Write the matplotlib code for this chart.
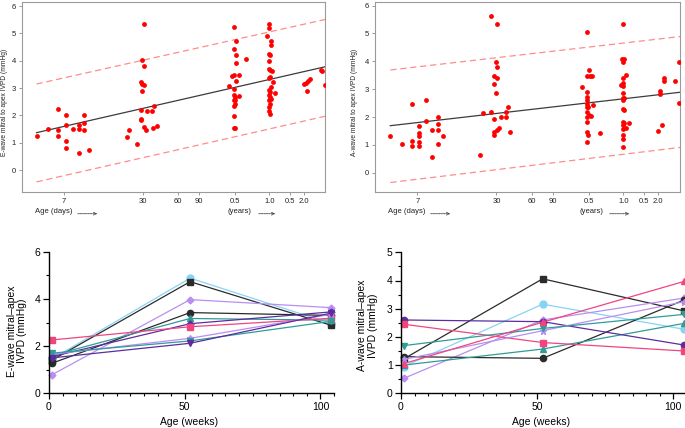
import numpy as np
import matplotlib
matplotlib.use('Agg')
import matplotlib.pyplot as plt
from matplotlib.patches import FancyArrowPatch
from matplotlib.ticker import MultipleLocator, NullLocator

plt.rcParams['font.family'] = ['Liberation Sans', 'DejaVu Sans']

# ---------------- top panels: scatter vs age (days) ----------------
tick_days = [7, 30, 60, 90, 182.5, 365, 547.5, 730]
tick_labels = ['7', '30', '60', '90', '0.5', '1.0', '0.5', '2.0']

e_days = [4.5, 5.4, 6.4, 6.4, 6.4, 7.3, 7.3, 7.3, 7.3, 8.2, 9.1, 9.1, 9.1, 10.0, 10.0, 10.0, 11.0,
          22.2, 23.2, 26.8, 29.2, 29.2, 29.2, 29.2, 29.9, 29.9, 29.9, 30.9, 30.9, 30.9, 30.9,
          32.1, 32.6, 35.8, 36.6, 37.5, 39.5,
          162, 174, 179, 179, 179, 179, 179, 179, 179, 179, 179, 183, 183, 186, 186, 186, 188,
          184, 184, 201, 201, 231,
          350, 359, 359, 359, 359, 359, 359, 359, 359, 359, 359, 359,
          369, 369, 369, 369, 369, 369, 369, 374, 374, 374, 374, 384, 389, 410,
          726, 755, 776, 791, 818, 1011, 1044, 1098]
e_vals = [1.25, 1.50, 2.22, 1.48, 1.24, 2.02, 1.64, 1.07, 0.80, 1.52, 1.64, 1.50, 0.64, 2.02, 1.73, 1.48, 0.73,
          1.20, 1.46, 0.95, 2.19, 1.88, 1.82, 3.22, 4.04, 3.16, 2.90, 5.33, 3.80, 3.10, 1.57,
          1.48, 2.15, 2.17, 1.55, 2.35, 1.62,
          3.08, 3.43, 5.23, 4.43, 3.48, 2.98, 2.76, 2.55, 2.35, 1.97, 1.55, 1.55, 2.55, 4.74, 3.92, 3.25, 4.20,
          2.43, 2.66, 3.48, 2.71, 4.08,
          4.91, 5.33, 5.20, 4.26, 3.98, 3.69, 3.37, 2.92, 2.74, 2.55, 2.31, 2.15,
          4.20, 3.65, 3.40, 2.86, 2.68, 2.43, 2.07, 4.74, 4.56, 3.04, 2.62, 3.62, 3.22, 2.82,
          3.16, 3.19, 2.90, 3.25, 3.32, 3.65, 3.61, 3.13]
e_fit_days = [4.5, 1102]
e_fit = [1.37, 3.78]
e_upper = [3.15, 5.51]
e_lower = [-0.43, 1.97]

a_days = [4.5, 5.4, 6.4, 6.4, 6.4, 7.2, 7.2, 7.2, 7.2, 7.2, 8.1, 8.1, 9.1, 9.1, 10.0, 10.0, 10.0, 10.0, 11.0,
          22.0, 23.0, 26.8, 26.8, 28.5, 28.5, 28.5, 28.5, 28.5, 29.5, 29.5, 30.6, 30.6, 30.6, 30.6,
          31.6, 32.6, 35.8, 36.0, 37.3, 39.3,
          162, 176, 176, 176, 176, 176, 176, 176, 176, 176, 176, 176, 176, 179, 179, 183, 183,
          188, 196, 190, 201, 230,
          349, 355, 359, 359, 359, 359, 359, 359, 359, 359, 359, 359, 359, 359, 359, 359,
          369, 364, 369, 369, 369, 381, 381, 405,
          730, 762, 762, 791, 818, 818, 1017, 1110, 1110]
a_vals = [1.32, 1.05, 2.47, 1.14, 0.97, 1.69, 1.41, 1.32, 1.11, 0.96, 2.61, 1.86, 1.54, 0.55, 2.01, 1.75, 1.54, 1.02, 1.33,
          0.63, 2.16, 5.63, 2.17, 1.93, 1.45, 1.35, 3.48, 3.19, 3.99, 2.85, 5.34, 3.81, 3.41, 1.53,
          1.59, 2.01, 2.18, 2.01, 2.37, 1.47,
          3.07, 2.90, 5.07, 3.47, 2.73, 2.61, 2.46, 2.35, 2.19, 2.01, 1.83, 1.47, 1.11, 1.35, 2.37, 3.69, 2.07,
          3.47, 3.47, 2.04, 2.43, 1.44,
          3.15, 4.08, 5.34, 3.96, 3.39, 3.11, 2.87, 2.67, 2.61, 2.28, 1.83, 1.71, 1.56, 1.35, 1.23, 0.93,
          4.08, 3.23, 2.67, 2.25, 1.77, 3.51, 1.59, 1.77,
          1.51, 2.83, 2.95, 1.71, 3.39, 3.31, 3.29, 3.99, 2.49]
a_fit_days = [4.5, 1124]
a_fit = [1.69, 2.89]
a_upper = [3.69, 4.89]
a_lower = [-0.35, 0.91]

# ---------------- bottom panels: longitudinal ----------------
weeks = [1, 52, 104]
e_lightblue = [1.45, 4.88, 2.95]
e_black_sq = [1.40, 4.73, 2.88]
e_lav_d = [0.78, 3.97, 3.63]
e_black_c = [1.27, 3.42, 3.30]
e_teal_up = [1.60, 3.17, 3.10]
e_purple_d = [1.55, 2.95, 3.45]
e_pink_sq = [2.26, 2.82, 3.18]
e_lav_star = [1.65, 2.33, 3.35]
e_teal_dn = [1.70, 2.22, 3.05]
e_purple_dn = [1.50, 2.12, 3.40]

a_lightblue = [0.95, 3.16, 2.27]
a_black_sq = [1.22, 4.06, 2.92]
a_lav_d = [0.53, 2.60, 3.38]
a_black_c = [1.30, 1.24, 3.31]
a_teal_up = [1.00, 1.57, 2.48]
a_purple_c = [2.60, 2.54, 1.71]
a_pink_sq = [2.45, 1.80, 1.50]
a_lav_star = [1.20, 2.22, 3.25]
a_teal_dn = [1.69, 2.30, 2.80]
a_pink_up = [1.05, 2.52, 3.97]

LB, BK, LAV, TEAL, PUR, PINK = '#86d4f5', '#2b2b2b', '#b98ef2', '#2f9c98', '#5b2d9e', '#f2457e'

W, H = 685, 428
fig = plt.figure(figsize=(6.85, 4.28), dpi=100)


def rect(l, t, r, b):
    return [l / W, 1 - b / H, (r - l) / W, (b - t) / H]


def fwd(x):
    return np.log10(np.maximum(np.asarray(x, float) - 1, 1e-6))


def inv(y):
    return 10 ** np.asarray(y, float) + 1


def top_panel(r, days, vals, fx, fy, up, lo, ylabel, xlim, ylim, lab_x):
    ax = fig.add_axes(r)
    ax.set_xscale('function', functions=(fwd, inv))
    ax.set_xlim(*xlim)
    ax.set_ylim(*ylim)
    ax.plot(fx, up, color='#ff8c8c', lw=0.9, dashes=(5, 3))
    ax.plot(fx, lo, color='#ff8c8c', lw=0.9, dashes=(5, 3))
    ax.plot(fx, fy, color='#3c3c3c', lw=0.9)
    ax.scatter(days, vals, s=12, color='#ff0000', zorder=3, linewidths=0)
    ax.set_xticks(tick_days)
    ax.set_xticklabels(tick_labels)
    ax.xaxis.set_minor_locator(NullLocator())
    ax.set_yticks(range(0, 7))
    for s in ax.spines.values():
        s.set_color('#9a9a9a')
        s.set_linewidth(0.8)
    ax.tick_params(labelsize=5.5, length=2.5, width=0.6, color='#8a8a8a', pad=2, labelcolor='#222222')
    ax.set_ylabel(ylabel, fontsize=4.8, color='#222222')
    ax.yaxis.set_label_coords(lab_x, 0.47)
    return ax


top_panel(rect(22, 2, 325, 192), e_days, e_vals, e_fit_days, e_fit, e_upper, e_lower,
          'E-wave mitral to apex IVPD (mmHg)', (3.62, 1102), (-0.8, 6.15), -0.047)
top_panel(rect(375, 2, 680, 192), a_days, a_vals, a_fit_days, a_fit, a_upper, a_lower,
          'A-wave mitral to apex IVPD (mmHg)', (3.58, 1124), (-0.69, 6.13), -0.056)


def fig_label(x_text, x0, x1, text):
    y = 1 - 212 / H
    fig.text(x_text / W, y, text, fontsize=5.5, ha='left', va='center', color='#222222')
    arr = FancyArrowPatch((x0 / W, y - 0.004), (x1 / W, y - 0.004), transform=fig.transFigure,
                          arrowstyle='->', mutation_scale=5, lw=0.6, linestyle=(0, (2, 1)),
                          color='#444444')
    fig.add_artist(arr)


fig_label(35, 75, 100, 'Age (days)')
fig_label(228, 256, 278, '(years)')
fig_label(388, 428, 453, 'Age (days)')
fig_label(579, 607, 632, '(years)')


def bottom_panel(r, ylim, ymaj, ymin, series, ylabel, lab_xy):
    ax = fig.add_axes(r)
    ax.set_xlim(0, 105)
    ax.set_ylim(*ylim)
    for vals, c, m, ms in series:
        ax.plot(weeks, vals, color=c, marker=m, ms=ms, lw=0.9, mec=c, mfc=c, clip_on=False)
    for s in ('top', 'right'):
        ax.spines[s].set_visible(False)
    for s in ('left', 'bottom'):
        ax.spines[s].set_linewidth(1.0)
    ax.set_xticks([0, 50, 100])
    ax.xaxis.set_minor_locator(MultipleLocator(5))
    ax.yaxis.set_major_locator(MultipleLocator(ymaj))
    ax.yaxis.set_minor_locator(MultipleLocator(ymin))
    ax.tick_params(which='major', labelsize=7.5, length=4, width=0.9, pad=2)
    ax.tick_params(which='minor', length=2.5, width=0.8)
    ax.set_ylabel(ylabel, fontsize=7.5, linespacing=1.1)
    ax.yaxis.set_label_coords(*lab_xy)
    ax.set_xlabel('Age (weeks)', fontsize=7.5)
    ax.xaxis.set_label_coords(0.49, -0.165)
    return ax


e_series = [
    (e_lightblue, LB, 'o', 5),
    (e_black_sq, BK, 's', 4.5),
    (e_lav_d, LAV, 'D', 3.5),
    (e_black_c, BK, 'o', 4.5),
    (e_teal_up, TEAL, '^', 4.5),
    (e_purple_d, PUR, 'D', 3.5),
    (e_pink_sq, PINK, 's', 4.5),
    (e_lav_star, LAV, '*', 5),
    (e_teal_dn, TEAL, 'v', 4.5),
    (e_purple_dn, PUR, 'v', 4.5),
]
a_series = [
    (a_lightblue, LB, 'o', 5),
    (a_black_sq, BK, 's', 5),
    (a_lav_d, LAV, 'D', 3.5),
    (a_black_c, BK, 'o', 4.5),
    (a_teal_up, TEAL, '^', 4.5),
    (a_purple_c, PUR, 'o', 4.5),
    (a_pink_sq, PINK, 's', 4.5),
    (a_lav_star, LAV, '*', 5),
    (a_teal_dn, TEAL, 'v', 4.5),
    (a_pink_up, PINK, '^', 4.5),
]

bottom_panel(rect(49, 251.7, 334, 393.3), (0, 6), 2, 1, e_series,
             'E-wave mitral\u2013apex\nIVPD (mmHg)', (-0.076, 0.44))
bottom_panel(rect(401, 252.3, 687, 393.3), (0, 5), 1, 0.5, a_series,
             'A-wave mitral\u2013apex\nIVPD (mmHg)', (-0.08, 0.48))

fig.savefig('out.png', dpi=100)
